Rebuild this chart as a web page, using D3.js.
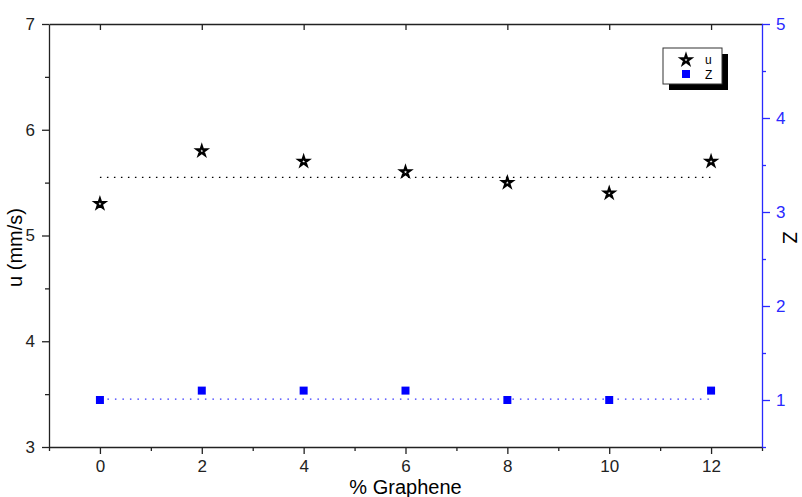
<!DOCTYPE html>
<html>
<head>
<meta charset="utf-8">
<script src="https://cdnjs.cloudflare.com/ajax/libs/d3/7.8.5/d3.min.js"></script>
<style>
  body { margin: 0; background: #fff; }
  text { font-family: "Liberation Sans", Arial, sans-serif; }
</style>
</head>
<body>
<div id="chart"></div>
<script>
// data
let graphene = [0, 2, 4, 6, 8, 10, 12];
let uValues = [5.3, 5.8, 5.7, 5.6, 5.5, 5.4, 5.7];
let zValues = [1.0, 1.1, 1.1, 1.1, 1.0, 1.0, 1.1];
let uMean = 5.55;
let zMean = 1.01;
let xTicks = [0, 2, 4, 6, 8, 10, 12];
let uTicks = [3, 4, 5, 6, 7];
let zTicks = [1, 2, 3, 4, 5];

let margin = {top: 24, right: 40, bottom: 50, left: 49};
let width = 802 - margin.left - margin.right;
let height = 497 - margin.top - margin.bottom;

let xScale = d3.scaleLinear().domain([-1, 13]).range([0, width]);
let yScale = d3.scaleLinear().domain([3, 7]).range([height, 0]);
let zScale = d3.scaleLinear().domain([0.5, 5]).range([height, 0]);

let svg = d3.select('#chart')
  .append('svg')
  .attr('width', 802)
  .attr('height', 497)
  .append('g')
  .attr('transform', 'translate(' + margin.left + ',' + margin.top + ')');

let styleAxis = (g, color) => {
  g.selectAll('path, line').attr('stroke', color).attr('stroke-width', 1.3);
  g.selectAll('text').attr('fill', color).style('font-size', '17px');
};

// minor ticks first so majors draw on top
let minorX = d3.range(-1, 14, 2);
svg.append('g')
  .attr('transform', 'translate(0,' + height + ')')
  .call(d3.axisBottom(xScale).tickValues(minorX).tickSize(4).tickFormat(''))
  .call(g => g.select('.domain').remove())
  .call(g => styleAxis(g, '#222'));
svg.append('g')
  .call(d3.axisLeft(yScale).tickValues(d3.range(3.5, 7, 1)).tickSize(4).tickFormat(''))
  .call(g => g.select('.domain').remove())
  .call(g => styleAxis(g, '#222'));
svg.append('g')
  .attr('transform', 'translate(' + width + ',0)')
  .call(d3.axisRight(zScale).tickValues(d3.range(0.5, 5.1, 1)).tickSize(4).tickFormat(''))
  .call(g => g.select('.domain').remove())
  .call(g => styleAxis(g, '#2929ff'));

// top axis, ticks pointing inward
svg.append('g')
  .call(d3.axisTop(xScale).tickValues(xTicks).tickSize(-6).tickSizeOuter(0).tickFormat(''))
  .call(g => styleAxis(g, '#222'));

svg.append('g')
  .attr('class', 'x axis')
  .attr('transform', 'translate(0,' + height + ')')
  .call(d3.axisBottom(xScale).tickValues(xTicks).tickSize(7).tickSizeOuter(0).tickPadding(6))
  .call(g => styleAxis(g, '#222'));

svg.append('g')
  .attr('class', 'y axis')
  .call(d3.axisLeft(yScale).tickValues(uTicks).tickSize(7).tickSizeOuter(0).tickFormat(d3.format('d')).tickPadding(7))
  .call(g => styleAxis(g, '#222'));

svg.append('g')
  .attr('class', 'z-axis')
  .attr('transform', 'translate(' + width + ',0)')
  .call(d3.axisRight(zScale).tickValues(zTicks).tickSize(8).tickSizeOuter(0).tickFormat(d3.format('d')).tickPadding(6))
  .call(g => styleAxis(g, '#2929ff'));

// mean lines
svg.append('line')
  .attr('x1', xScale(graphene[0])).attr('x2', xScale(graphene[graphene.length - 1]))
  .attr('y1', yScale(uMean)).attr('y2', yScale(uMean))
  .attr('stroke', '#000').attr('stroke-width', 1.2)
  .attr('stroke-dasharray', '1.5,5.5');
svg.append('line')
  .attr('x1', xScale(graphene[0])).attr('x2', xScale(graphene[graphene.length - 1]))
  .attr('y1', zScale(zMean)).attr('y2', zScale(zMean))
  .attr('stroke', '#3333ff').attr('stroke-width', 1.2)
  .attr('stroke-dasharray', '1.5,6');

let star = d3.symbol().type(d3.symbolStar).size(30);
let square = d3.symbol().type(d3.symbolSquare).size(64);

svg.selectAll('.umark')
  .data(graphene)
  .enter()
  .append('path')
  .attr('class', 'umark')
  .attr('d', star)
  .attr('transform', (d, i) => 'translate(' + xScale(d) + ',' + yScale(uValues[i]) + ')')
  .attr('fill', '#fff')
  .attr('stroke', '#000')
  .attr('stroke-width', 2.2);

svg.selectAll('.zmark')
  .data(graphene)
  .enter()
  .append('path')
  .attr('class', 'zmark')
  .attr('d', square)
  .attr('transform', (d, i) => 'translate(' + xScale(d) + ',' + zScale(zValues[i]) + ')')
  .attr('fill', '#0000ff');

// axis labels
svg.append('text')
  .attr('text-anchor', 'middle')
  .attr('transform', 'translate(' + (-27) + ',' + (height / 2 + 12) + ') rotate(-90)')
  .style('font-size', '20px')
  .text('u (mm/s)');

svg.append('text')
  .attr('text-anchor', 'middle')
  .attr('transform', 'translate(' + (width + 21) + ',' + (height / 2 + 2) + ') rotate(90)')
  .style('font-size', '20px')
  .attr('fill', '#000')
  .text('Z');

svg.append('text')
  .attr('text-anchor', 'middle')
  .attr('x', xScale(6))
  .attr('y', height + 47)
  .style('font-size', '20px')
  .text('% Graphene');

// legend
let legend = svg.append('g').attr('transform', 'translate(' + (663 - margin.left) + ',' + (48 - margin.top) + ')');
legend.append('rect').attr('x', 6).attr('y', 6).attr('width', 59).attr('height', 36).attr('fill', '#000');
legend.append('rect').attr('width', 59).attr('height', 36).attr('fill', '#fff').attr('stroke', '#333').attr('stroke-width', 1);
legend.append('path').attr('d', star).attr('transform', 'translate(23,12)')
  .attr('fill', '#fff').attr('stroke', '#000').attr('stroke-width', 2.2);
legend.append('path').attr('d', square).attr('transform', 'translate(23,26)').attr('fill', '#0000ff');
legend.append('text').attr('x', 42).attr('y', 16).style('font-size', '12px').text('u');
legend.append('text').attr('x', 42).attr('y', 31).style('font-size', '12px').text('Z');
</script>
</body>
</html>
